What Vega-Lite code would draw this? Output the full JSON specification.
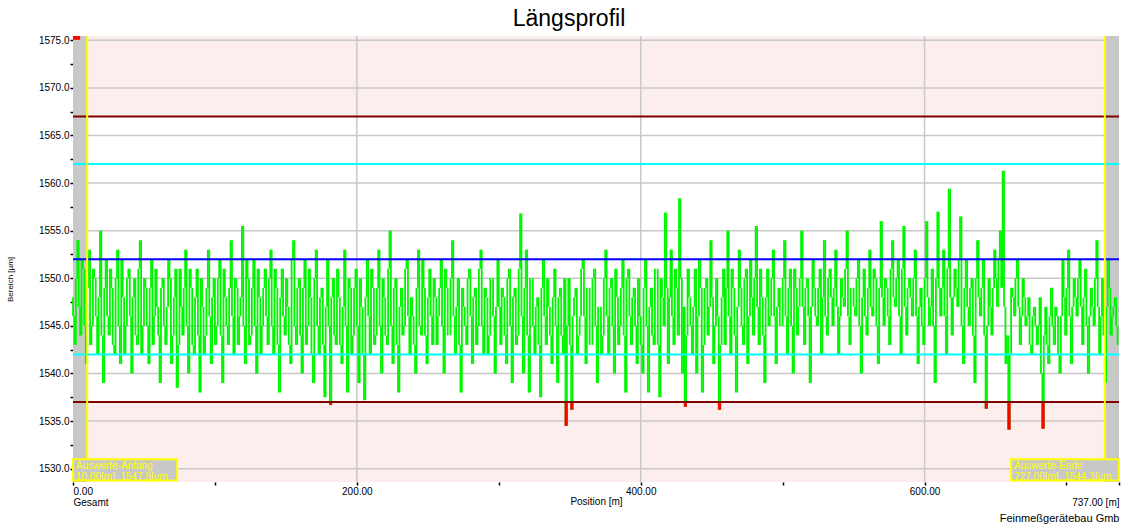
{
  "$schema": "https://vega.github.io/schema/vega-lite/v6.json",
  "width": 1046,
  "height": 446,
  "autosize": {"type": "none"},
  "padding": {"left": 73, "top": 36, "right": 6, "bottom": 46},
  "background": "#ffffff",
  "config": {
    "font": "Liberation Sans",
    "view": {"stroke": null, "fill": "#fdeeee"}
  },
  "title": {"text": "Längsprofil", "fontSize": 23, "fontWeight": "normal", "color": "#000000", "font": "Liberation Sans", "anchor": "middle", "offset": 4, "dx": -27},
  "datasets": {
    "profile": [
      {"p":0,"u":1548},{"p":2,"u":1543},{"p":4,"u":1554},{"p":6,"u":1544},{"p":8,"u":1551},{"p":10,"u":1541},{"p":12,"u":1553},{"p":14,"u":1545},{"p":16,"u":1550},{"p":18,"u":1542},
      {"p":20,"u":1555},{"p":22,"u":1539},{"p":24,"u":1552},{"p":26,"u":1544},{"p":28,"u":1549},{"p":30,"u":1542},{"p":32,"u":1553},{"p":34,"u":1541},{"p":36,"u":1548},{"p":38,"u":1545},
      {"p":40,"u":1551},{"p":42,"u":1540},{"p":44,"u":1550},{"p":46,"u":1543},{"p":48,"u":1554},{"p":50,"u":1545},{"p":52,"u":1549},{"p":54,"u":1541},{"p":56,"u":1552},{"p":58,"u":1546},
      {"p":60,"u":1547},{"p":62,"u":1539},{"p":64,"u":1550},{"p":66,"u":1543},{"p":68,"u":1552},{"p":70,"u":1541},{"p":72,"u":1548},{"p":74,"u":1538.5},{"p":76,"u":1551},{"p":78,"u":1544},
      {"p":80,"u":1553},{"p":82,"u":1540},{"p":84,"u":1549},{"p":86,"u":1542},{"p":88,"u":1551},{"p":90,"u":1538},{"p":92,"u":1547},{"p":94,"u":1544},{"p":96,"u":1553},{"p":98,"u":1541},
      {"p":100,"u":1550},{"p":102,"u":1545},{"p":104,"u":1552},{"p":106,"u":1539},{"p":108,"u":1548},{"p":110,"u":1543},{"p":112,"u":1554},{"p":114,"u":1542},{"p":116,"u":1549},{"p":118,"u":1546},
      {"p":120,"u":1555.5},{"p":122,"u":1541},{"p":124,"u":1550},{"p":126,"u":1544},{"p":128,"u":1552},{"p":130,"u":1540},{"p":132,"u":1548},{"p":134,"u":1545},{"p":136,"u":1551},{"p":138,"u":1543},
      {"p":140,"u":1553},{"p":142,"u":1542},{"p":144,"u":1549},{"p":146,"u":1538},{"p":148,"u":1551},{"p":150,"u":1544},{"p":152,"u":1547},{"p":154,"u":1541},{"p":156,"u":1554},{"p":158,"u":1543},
      {"p":160,"u":1550},{"p":162,"u":1540},{"p":164,"u":1552},{"p":166,"u":1545},{"p":168,"u":1548},{"p":170,"u":1539},{"p":172,"u":1553},{"p":174,"u":1542},{"p":176,"u":1549},{"p":178,"u":1537.5},
      {"p":180,"u":1552},{"p":182,"u":1536.7},{"p":184,"u":1550},{"p":186,"u":1543},{"p":188,"u":1548},{"p":190,"u":1541},{"p":192,"u":1553},{"p":194,"u":1538},{"p":196,"u":1549},{"p":198,"u":1544},
      {"p":200,"u":1551},{"p":202,"u":1539},{"p":204,"u":1547},{"p":206,"u":1537.2},{"p":208,"u":1552},{"p":210,"u":1542},{"p":212,"u":1549},{"p":214,"u":1544},{"p":216,"u":1553},{"p":218,"u":1540},
      {"p":220,"u":1548},{"p":222,"u":1543},{"p":224,"u":1555},{"p":226,"u":1541},{"p":228,"u":1550},{"p":230,"u":1538},{"p":232,"u":1549},{"p":234,"u":1545},{"p":236,"u":1552},{"p":238,"u":1542},
      {"p":240,"u":1546},{"p":242,"u":1540},{"p":244,"u":1553},{"p":246,"u":1544},{"p":248,"u":1549},{"p":250,"u":1541},{"p":252,"u":1551},{"p":254,"u":1543},{"p":256,"u":1548},{"p":258,"u":1546},
      {"p":260,"u":1552},{"p":262,"u":1540},{"p":264,"u":1549},{"p":266,"u":1544},{"p":268,"u":1554},{"p":270,"u":1542},{"p":272,"u":1550},{"p":274,"u":1538},{"p":276,"u":1547},{"p":278,"u":1543},
      {"p":280,"u":1551},{"p":282,"u":1541},{"p":284,"u":1549},{"p":286,"u":1545},{"p":288,"u":1553},{"p":290,"u":1542},{"p":292,"u":1548},{"p":294,"u":1544},{"p":296,"u":1550},{"p":298,"u":1540},
      {"p":300,"u":1552},{"p":302,"u":1543},{"p":304,"u":1548},{"p":306,"u":1541},{"p":308,"u":1551},{"p":310,"u":1539},{"p":312,"u":1549},{"p":314,"u":1544},{"p":316,"u":1556.8},{"p":318,"u":1540},
      {"p":320,"u":1553},{"p":322,"u":1538},{"p":324,"u":1550},{"p":326,"u":1542},{"p":328,"u":1548},{"p":330,"u":1537.5},{"p":332,"u":1552},{"p":334,"u":1543},{"p":336,"u":1547},{"p":338,"u":1541},
      {"p":340,"u":1551},{"p":342,"u":1539},{"p":344,"u":1549},{"p":346,"u":1542},{"p":348,"u":1534.5},{"p":350,"u":1550},{"p":352,"u":1536.2},{"p":354,"u":1548},{"p":356,"u":1542},{"p":358,"u":1546},
      {"p":360,"u":1552},{"p":362,"u":1541},{"p":364,"u":1549},{"p":366,"u":1543},{"p":368,"u":1551},{"p":370,"u":1539},{"p":372,"u":1547},{"p":374,"u":1544},{"p":376,"u":1553},{"p":378,"u":1542},
      {"p":380,"u":1550},{"p":382,"u":1540},{"p":384,"u":1548},{"p":386,"u":1545},{"p":388,"u":1552},{"p":390,"u":1538},{"p":392,"u":1551},{"p":394,"u":1543},{"p":396,"u":1549},{"p":398,"u":1541},
      {"p":400,"u":1546},{"p":402,"u":1540},{"p":404,"u":1552},{"p":406,"u":1538},{"p":408,"u":1549},{"p":410,"u":1543},{"p":412,"u":1551},{"p":414,"u":1537.5},{"p":416,"u":1548},{"p":418,"u":1556.9},
      {"p":420,"u":1541},{"p":422,"u":1553},{"p":424,"u":1543},{"p":426,"u":1549},{"p":428,"u":1558.4},{"p":430,"u":1540},{"p":432,"u":1536.5},{"p":434,"u":1551},{"p":436,"u":1545},{"p":438,"u":1547},
      {"p":440,"u":1540},{"p":442,"u":1552},{"p":444,"u":1538},{"p":446,"u":1549},{"p":448,"u":1544},{"p":450,"u":1554},{"p":452,"u":1541},{"p":454,"u":1550},{"p":456,"u":1536.2},{"p":458,"u":1548},
      {"p":460,"u":1543},{"p":462,"u":1555},{"p":464,"u":1542},{"p":466,"u":1549},{"p":468,"u":1538},{"p":470,"u":1553},{"p":472,"u":1545},{"p":474,"u":1550},{"p":476,"u":1541},{"p":478,"u":1552},
      {"p":480,"u":1544},{"p":482,"u":1555.5},{"p":484,"u":1543},{"p":486,"u":1548},{"p":488,"u":1539},{"p":490,"u":1551},{"p":492,"u":1546},{"p":494,"u":1553},{"p":496,"u":1541},{"p":498,"u":1549},
      {"p":500,"u":1545},{"p":502,"u":1554},{"p":504,"u":1542},{"p":506,"u":1551},{"p":508,"u":1540},{"p":510,"u":1549},{"p":512,"u":1547},{"p":514,"u":1555},{"p":516,"u":1543},{"p":518,"u":1550},
      {"p":520,"u":1539},{"p":522,"u":1552},{"p":524,"u":1546},{"p":526,"u":1549},{"p":528,"u":1542},{"p":530,"u":1554},{"p":532,"u":1544},{"p":534,"u":1551},{"p":536,"u":1545},{"p":538,"u":1553},
      {"p":540,"u":1542},{"p":542,"u":1550},{"p":544,"u":1547},{"p":546,"u":1555},{"p":548,"u":1543},{"p":550,"u":1549},{"p":552,"u":1546},{"p":554,"u":1552},{"p":556,"u":1540},{"p":558,"u":1551},
      {"p":560,"u":1544},{"p":562,"u":1553},{"p":564,"u":1546},{"p":566,"u":1550},{"p":568,"u":1541},{"p":570,"u":1556},{"p":572,"u":1545},{"p":574,"u":1549},{"p":576,"u":1543},{"p":578,"u":1554},
      {"p":580,"u":1547},{"p":582,"u":1552},{"p":584,"u":1542},{"p":586,"u":1555.5},{"p":588,"u":1544},{"p":590,"u":1550},{"p":592,"u":1546},{"p":594,"u":1553},{"p":596,"u":1541},{"p":598,"u":1549},
      {"p":600,"u":1543},{"p":602,"u":1556},{"p":604,"u":1545},{"p":606,"u":1551},{"p":608,"u":1539},{"p":610,"u":1557},{"p":612,"u":1546},{"p":614,"u":1553},{"p":616,"u":1542},{"p":618,"u":1559.4},
      {"p":620,"u":1544},{"p":622,"u":1551},{"p":624,"u":1547},{"p":626,"u":1556.5},{"p":628,"u":1541},{"p":630,"u":1552},{"p":632,"u":1545},{"p":634,"u":1550},{"p":636,"u":1539},{"p":638,"u":1554},
      {"p":640,"u":1546},{"p":642,"u":1552},{"p":644,"u":1536.3},{"p":646,"u":1550},{"p":648,"u":1544},{"p":650,"u":1553},{"p":652,"u":1547},{"p":654,"u":1555},{"p":656,"u":1561.3},{"p":658,"u":1541},
      {"p":660,"u":1534.1},{"p":662,"u":1549},{"p":664,"u":1546},{"p":666,"u":1552},{"p":668,"u":1543},{"p":670,"u":1550},{"p":672,"u":1545},{"p":674,"u":1548},{"p":676,"u":1542},{"p":678,"u":1547},
      {"p":680,"u":1543},{"p":682,"u":1548},{"p":684,"u":1534.2},{"p":686,"u":1547},{"p":688,"u":1541},{"p":690,"u":1549},{"p":692,"u":1543},{"p":694,"u":1546},{"p":696,"u":1540},{"p":698,"u":1552},
      {"p":700,"u":1544},{"p":702,"u":1553},{"p":704,"u":1541},{"p":706,"u":1550},{"p":708,"u":1546},{"p":710,"u":1552},{"p":712,"u":1543},{"p":714,"u":1551},{"p":716,"u":1540},{"p":718,"u":1549},
      {"p":720,"u":1545},{"p":722,"u":1554},{"p":724,"u":1542},{"p":726,"u":1550},{"p":728,"u":1539},{"p":730,"u":1552},{"p":732,"u":1544},{"p":734,"u":1547},{"p":736,"u":1545},{"p":737,"u":1543},
      {"p":1,"u":1546},{"p":3,"u":1550},{"p":5,"u":1547},{"p":7,"u":1552},{"p":9,"u":1545},{"p":11,"u":1549},{"p":13,"u":1543},{"p":15,"u":1551},{"p":17,"u":1546},{"p":19,"u":1548},
      {"p":21,"u":1544},{"p":23,"u":1549},{"p":25,"u":1546},{"p":27,"u":1551},{"p":29,"u":1543},{"p":31,"u":1550},{"p":33,"u":1545},{"p":35,"u":1552},{"p":37,"u":1542},{"p":39,"u":1550},
      {"p":41,"u":1546},{"p":43,"u":1548},{"p":45,"u":1544},{"p":47,"u":1551},{"p":49,"u":1542},{"p":51,"u":1550},{"p":53,"u":1545},{"p":55,"u":1549},{"p":57,"u":1543},{"p":59,"u":1551},
      {"p":61,"u":1544},{"p":63,"u":1549},{"p":65,"u":1545},{"p":67,"u":1547},{"p":69,"u":1550},{"p":71,"u":1544},{"p":73,"u":1551},{"p":75,"u":1543},{"p":77,"u":1547},{"p":79,"u":1549},
      {"p":81,"u":1545},{"p":83,"u":1551},{"p":85,"u":1543},{"p":87,"u":1548},{"p":89,"u":1544},{"p":91,"u":1550},{"p":93,"u":1542},{"p":95,"u":1549},{"p":97,"u":1546},{"p":99,"u":1548},
      {"p":101,"u":1543},{"p":103,"u":1550},{"p":105,"u":1544},{"p":107,"u":1551},{"p":109,"u":1545},{"p":111,"u":1549},{"p":113,"u":1546},{"p":115,"u":1550},{"p":117,"u":1543},{"p":119,"u":1548},
      {"p":121,"u":1545},{"p":123,"u":1552},{"p":125,"u":1543},{"p":127,"u":1549},{"p":129,"u":1545},{"p":131,"u":1551},{"p":133,"u":1542},{"p":135,"u":1549},{"p":137,"u":1546},{"p":139,"u":1550},
      {"p":141,"u":1545},{"p":143,"u":1551},{"p":145,"u":1543},{"p":147,"u":1548},{"p":149,"u":1546},{"p":151,"u":1550},{"p":153,"u":1543},{"p":155,"u":1552},{"p":157,"u":1545},{"p":159,"u":1549},
      {"p":161,"u":1544},{"p":163,"u":1549},{"p":165,"u":1543},{"p":167,"u":1551},{"p":169,"u":1542},{"p":171,"u":1550},{"p":173,"u":1545},{"p":175,"u":1548},{"p":177,"u":1543},{"p":179,"u":1547},
      {"p":181,"u":1545},{"p":183,"u":1548},{"p":185,"u":1544},{"p":187,"u":1551},{"p":189,"u":1543},{"p":191,"u":1547},{"p":193,"u":1545},{"p":195,"u":1550},{"p":197,"u":1542},{"p":199,"u":1549},
      {"p":201,"u":1545},{"p":203,"u":1550},{"p":205,"u":1542},{"p":207,"u":1548},{"p":209,"u":1546},{"p":211,"u":1551},{"p":213,"u":1543},{"p":215,"u":1549},{"p":217,"u":1545},{"p":219,"u":1550},
      {"p":221,"u":1544},{"p":223,"u":1551},{"p":225,"u":1545},{"p":227,"u":1549},{"p":229,"u":1543},{"p":231,"u":1547},{"p":233,"u":1544},{"p":235,"u":1551},{"p":237,"u":1546},{"p":239,"u":1548},
      {"p":241,"u":1543},{"p":243,"u":1549},{"p":245,"u":1545},{"p":247,"u":1552},{"p":249,"u":1544},{"p":251,"u":1548},{"p":253,"u":1546},{"p":255,"u":1550},{"p":257,"u":1543},{"p":259,"u":1549},
      {"p":261,"u":1545},{"p":263,"u":1551},{"p":265,"u":1544},{"p":267,"u":1550},{"p":269,"u":1546},{"p":271,"u":1547},{"p":273,"u":1543},{"p":275,"u":1549},{"p":277,"u":1545},{"p":279,"u":1550},
      {"p":281,"u":1546},{"p":283,"u":1548},{"p":285,"u":1543},{"p":287,"u":1551},{"p":289,"u":1545},{"p":291,"u":1549},{"p":293,"u":1542},{"p":295,"u":1550},{"p":297,"u":1546},{"p":299,"u":1547},
      {"p":301,"u":1547},{"p":303,"u":1549},{"p":305,"u":1544},{"p":307,"u":1550},{"p":309,"u":1545},{"p":311,"u":1548},{"p":313,"u":1543},{"p":315,"u":1551},{"p":317,"u":1546},{"p":319,"u":1549},
      {"p":321,"u":1544},{"p":323,"u":1550},{"p":325,"u":1545},{"p":327,"u":1547},{"p":329,"u":1543},{"p":331,"u":1549},{"p":333,"u":1546},{"p":335,"u":1550},{"p":337,"u":1544},{"p":339,"u":1548},
      {"p":341,"u":1545},{"p":343,"u":1548},{"p":345,"u":1544},{"p":347,"u":1550},{"p":349,"u":1545},{"p":351,"u":1543},{"p":353,"u":1546},{"p":355,"u":1549},{"p":357,"u":1544},{"p":359,"u":1551},
      {"p":361,"u":1546},{"p":363,"u":1549},{"p":365,"u":1543},{"p":367,"u":1550},{"p":369,"u":1545},{"p":371,"u":1547},{"p":373,"u":1542},{"p":375,"u":1550},{"p":377,"u":1546},{"p":379,"u":1549},
      {"p":381,"u":1545},{"p":383,"u":1551},{"p":385,"u":1543},{"p":387,"u":1549},{"p":389,"u":1544},{"p":391,"u":1550},{"p":393,"u":1546},{"p":395,"u":1548},{"p":397,"u":1545},{"p":399,"u":1550},
      {"p":401,"u":1543},{"p":403,"u":1549},{"p":405,"u":1545},{"p":407,"u":1547},{"p":409,"u":1544},{"p":411,"u":1551},{"p":413,"u":1543},{"p":415,"u":1550},{"p":417,"u":1545},{"p":419,"u":1549},
      {"p":421,"u":1548},{"p":423,"u":1546},{"p":425,"u":1551},{"p":427,"u":1544},{"p":429,"u":1550},{"p":431,"u":1547},{"p":433,"u":1544},{"p":435,"u":1548},{"p":437,"u":1542},{"p":439,"u":1551},
      {"p":441,"u":1546},{"p":443,"u":1549},{"p":445,"u":1543},{"p":447,"u":1550},{"p":449,"u":1547},{"p":451,"u":1548},{"p":453,"u":1545},{"p":455,"u":1546},{"p":457,"u":1543},{"p":459,"u":1551},
      {"p":461,"u":1549},{"p":463,"u":1546},{"p":465,"u":1551},{"p":467,"u":1544},{"p":469,"u":1547},{"p":471,"u":1549},{"p":473,"u":1543},{"p":475,"u":1551},{"p":477,"u":1546},{"p":479,"u":1548},
      {"p":481,"u":1550},{"p":483,"u":1547},{"p":485,"u":1551},{"p":487,"u":1544},{"p":489,"u":1548},{"p":491,"u":1545},{"p":493,"u":1550},{"p":495,"u":1546},{"p":497,"u":1547},{"p":499,"u":1545},
      {"p":501,"u":1550},{"p":503,"u":1546},{"p":505,"u":1549},{"p":507,"u":1545},{"p":509,"u":1551},{"p":511,"u":1544},{"p":513,"u":1550},{"p":515,"u":1547},{"p":517,"u":1549},{"p":519,"u":1546},
      {"p":521,"u":1547},{"p":523,"u":1549},{"p":525,"u":1545},{"p":527,"u":1551},{"p":529,"u":1548},{"p":531,"u":1546},{"p":533,"u":1550},{"p":535,"u":1548},{"p":537,"u":1549},{"p":539,"u":1547},
      {"p":541,"u":1546},{"p":543,"u":1548},{"p":545,"u":1551},{"p":547,"u":1546},{"p":549,"u":1549},{"p":551,"u":1547},{"p":553,"u":1550},{"p":555,"u":1545},{"p":557,"u":1548},{"p":559,"u":1546},
      {"p":561,"u":1549},{"p":563,"u":1547},{"p":565,"u":1551},{"p":567,"u":1545},{"p":569,"u":1549},{"p":571,"u":1548},{"p":573,"u":1550},{"p":575,"u":1546},{"p":577,"u":1551},{"p":579,"u":1548},
      {"p":581,"u":1550},{"p":583,"u":1546},{"p":585,"u":1551},{"p":587,"u":1547},{"p":589,"u":1549},{"p":591,"u":1548},{"p":593,"u":1550},{"p":595,"u":1546},{"p":597,"u":1547},{"p":599,"u":1545},
      {"p":601,"u":1550},{"p":603,"u":1548},{"p":605,"u":1547},{"p":607,"u":1545},{"p":609,"u":1550},{"p":611,"u":1549},{"p":613,"u":1549},{"p":615,"u":1546},{"p":617,"u":1551},{"p":619,"u":1548},
      {"p":621,"u":1548},{"p":623,"u":1549},{"p":625,"u":1552},{"p":627,"u":1545},{"p":629,"u":1549},{"p":631,"u":1547},{"p":633,"u":1549},{"p":635,"u":1544},{"p":637,"u":1550},{"p":639,"u":1548},
      {"p":641,"u":1549},{"p":643,"u":1544},{"p":645,"u":1545},{"p":647,"u":1547},{"p":649,"u":1549},{"p":651,"u":1550},{"p":653,"u":1552},{"p":655,"u":1549},{"p":657,"u":1547},{"p":659,"u":1544},
      {"p":661,"u":1542},{"p":663,"u":1548},{"p":665,"u":1550},{"p":667,"u":1547},{"p":669,"u":1546},{"p":671,"u":1548},{"p":673,"u":1546},{"p":675,"u":1543},{"p":677,"u":1546},{"p":679,"u":1545},
      {"p":681,"u":1545},{"p":683,"u":1540},{"p":685,"u":1544},{"p":687,"u":1543},{"p":689,"u":1546},{"p":691,"u":1545},{"p":693,"u":1547},{"p":695,"u":1542},{"p":697,"u":1546},{"p":699,"u":1548},
      {"p":701,"u":1549},{"p":703,"u":1546},{"p":705,"u":1547},{"p":707,"u":1548},{"p":709,"u":1550},{"p":711,"u":1547},{"p":713,"u":1548},{"p":715,"u":1545},{"p":717,"u":1546},{"p":719,"u":1547},
      {"p":721,"u":1550},{"p":723,"u":1547},{"p":725,"u":1546},{"p":727,"u":1544},{"p":729,"u":1547},{"p":731,"u":1549},{"p":733,"u":1546},{"p":735,"u":1548}
    ],
    "hgrid": [{"g":1530},{"g":1535},{"g":1540},{"g":1545},{"g":1550},{"g":1555},{"g":1560},{"g":1565},{"g":1570},{"g":1575}],
    "vgrid": [{"g":200},{"g":400},{"g":600}],
    "strips": [{"a":0,"b":10},{"a":727,"b":737}],
    "limits": [
      {"v":1567,"k":"Oberer Grenzwert"},
      {"v":1537,"k":"Unterer Grenzwert"},
      {"v":1562,"k":"Obere Warngrenze"},
      {"v":1542,"k":"Untere Warngrenze"},
      {"v":1552,"k":"Sollwert"}
    ],
    "bounds": [{"m":10},{"m":727}],
    "overflow": [{"a":0,"b":5,"lo":1575.05,"hi":1575.45}],
    "boxes": [
      {"a":0,"b":73.4,"lines":["Auswerte-Anfang","10.00[m], 1547.9[µm"]},
      {"a":661,"b":737,"lines":["Auswerte-Ende","727.00[m], 1544.3[µm"]}
    ]
  },
  "resolve": {"axis": {"x": "independent", "y": "independent"}},
  "layer": [
    {
      "data": {"values": [{"lo":1537,"hi":1567}]},
      "mark": {"type": "rect", "fill": "#ffffff"},
      "encoding": {
        "x": {"datum": 0, "type": "quantitative", "scale": {"domain": [0, 737], "nice": false, "zero": false}, "axis": null},
        "x2": {"datum": 737},
        "y": {"field": "lo", "type": "quantitative", "scale": {"domain": [1528.6, 1575.45], "nice": false, "zero": false}, "axis": null},
        "y2": {"field": "hi"}
      }
    },
    {
      "data": {"name": "hgrid"},
      "mark": {"type": "rule", "color": "#c8c8c8", "strokeWidth": 1.5},
      "encoding": {"y": {"field": "g", "type": "quantitative", "axis": null}}
    },
    {
      "data": {"name": "vgrid"},
      "mark": {"type": "rule", "color": "#c8c8c8", "strokeWidth": 1.5},
      "encoding": {"x": {"field": "g", "type": "quantitative", "axis": null}}
    },
    {
      "data": {"name": "strips"},
      "mark": {"type": "rect", "fill": "#c8c8c8"},
      "encoding": {
        "x": {"field": "a", "type": "quantitative", "axis": null},
        "x2": {"field": "b"},
        "y": {"datum": 1528.6, "type": "quantitative", "axis": null},
        "y2": {"datum": 1575.45}
      }
    },
    {
      "data": {"name": "profile"},
      "transform": [
        {"window": [{"op": "min", "field": "u", "as": "lo"}, {"op": "max", "field": "u", "as": "hi"}], "sort": [{"field": "p", "order": "ascending"}], "frame": [0, 1]}
      ],
      "mark": {"type": "rule", "color": "#00f500", "strokeWidth": 1.8},
      "encoding": {
        "x": {
          "field": "p", "type": "quantitative",
          "axis": {
            "orient": "bottom",
            "values": [0, 100, 200, 300, 400, 500, 600, 700, 737],
            "labelExpr": "datum.value == 0 ? ['0.00', 'Gesamt'] : (datum.value == 737 ? ['', '737.00 [m]'] : (datum.value % 200 == 0 ? format(datum.value, '.2f') : ''))",
            "labelFlush": true, "labelOverlap": false, "labelBound": false,
            "labelFontSize": 10, "labelColor": "#000000", "labelPadding": 1, "labelLineHeight": 11, "labelBaseline": "top",
            "tickSize": 3, "tickWidth": 1.5, "tickColor": "#000000",
            "domain": false, "grid": false,
            "title": "Position [m]", "titleFontSize": 10, "titleFontWeight": "normal", "titleColor": "#000000",
            "titleY": 19, "titleBaseline": "middle"
          }
        },
        "y": {
          "field": "lo", "type": "quantitative",
          "axis": {
            "orient": "left",
            "values": [1530, 1532.5, 1535, 1537.5, 1540, 1542.5, 1545, 1547.5, 1550, 1552.5, 1555, 1557.5, 1560, 1562.5, 1565, 1567.5, 1570, 1572.5, 1575],
            "labelExpr": "datum.value % 5 == 0 ? format(datum.value, '.1f') : ''",
            "labelFontSize": 10, "labelColor": "#000000", "labelPadding": 1, "labelOverlap": false, "labelBound": false,
            "tickSize": 3, "tickWidth": 1.5, "tickColor": "#000000",
            "domain": false, "grid": false,
            "title": "Bereich [µm]", "titleFontSize": 8, "titleFontWeight": "normal", "titleColor": "#000000",
            "titleX": -63, "titleY": 243, "titleAngle": -90, "titleAlign": "center", "titleBaseline": "middle"
          }
        },
        "y2": {"field": "hi"}
      }
    },
    {
      "data": {"name": "profile"},
      "transform": [
        {"window": [{"op": "min", "field": "u", "as": "lo"}], "sort": [{"field": "p", "order": "ascending"}], "frame": [0, 1]},
        {"filter": "datum.lo < 1537"}
      ],
      "mark": {"type": "rule", "color": "#ff0000", "strokeWidth": 1.8},
      "encoding": {
        "x": {"field": "p", "type": "quantitative", "axis": null},
        "y": {"field": "lo", "type": "quantitative", "axis": null},
        "y2": {"datum": 1537}
      }
    },
    {
      "data": {"name": "limits"},
      "mark": {"type": "rule", "strokeWidth": 2},
      "encoding": {
        "y": {"field": "v", "type": "quantitative", "axis": null},
        "color": {
          "field": "k", "type": "nominal", "legend": null,
          "scale": {
            "domain": ["Oberer Grenzwert", "Unterer Grenzwert", "Obere Warngrenze", "Untere Warngrenze", "Sollwert"],
            "range": ["#800000", "#800000", "#00ffff", "#00ffff", "#0000ff"]
          }
        }
      }
    },
    {
      "data": {"name": "overflow"},
      "mark": {"type": "rect", "fill": "#ff0000"},
      "encoding": {
        "x": {"field": "a", "type": "quantitative", "axis": null},
        "x2": {"field": "b"},
        "y": {"field": "lo", "type": "quantitative", "axis": null},
        "y2": {"field": "hi"}
      }
    },
    {
      "data": {"name": "bounds"},
      "mark": {"type": "rule", "color": "#ffff00", "strokeWidth": 2},
      "encoding": {"x": {"field": "m", "type": "quantitative", "axis": null}}
    },
    {
      "data": {"name": "boxes"},
      "mark": {"type": "rect", "fill": "#c8c8c8", "stroke": "#ffff00", "strokeWidth": 2},
      "encoding": {
        "x": {"field": "a", "type": "quantitative", "axis": null},
        "x2": {"field": "b"},
        "y": {"datum": 1528.75, "type": "quantitative", "axis": null},
        "y2": {"datum": 1530.98}
      }
    },
    {
      "data": {"name": "boxes"},
      "mark": {"type": "text", "color": "#ffff00", "fontSize": 10, "align": "left", "baseline": "top", "dx": 3, "dy": 2, "lineHeight": 11},
      "encoding": {
        "x": {
          "field": "a", "type": "quantitative",
          "axis": {
            "orient": "bottom",
            "labels": false, "ticks": false, "domain": false, "grid": false,
            "title": "Feinmeßgerätebau Gmb", "titleFontSize": 11, "titleFontWeight": "normal", "titleColor": "#000000",
            "titleX": 1046, "titleY": 36, "titleAlign": "right", "titleBaseline": "middle", "titleLimit": 400
          }
        },
        "y": {"datum": 1530.98, "type": "quantitative", "axis": null},
        "text": {"field": "lines"}
      }
    }
  ]
}
